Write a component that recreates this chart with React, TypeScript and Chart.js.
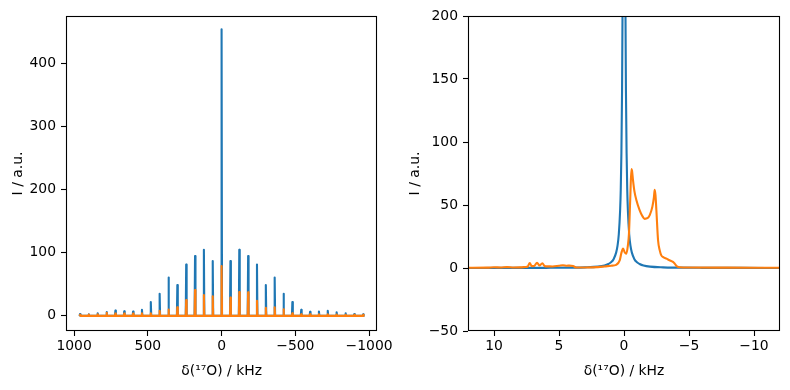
import React, { useEffect, useRef } from "react";
import { Chart, registerables } from "chart.js";

Chart.register(...registerables);

// ---------- Left panel: spinning sideband manifold (kHz) ----------
const sidebandPositions = [
  960, 900, 840, 780, 720, 660, 600, 540, 480, 420, 360, 300, 240, 180, 120, 60, 0,
  -60, -120, -180, -240, -300, -360, -420, -480, -540, -600, -660, -720, -780, -840, -900, -960,
];
const blueSidebands = [
  3, 2.6, 4, 6, 8.5, 7.4, 7, 9.5, 22, 35, 61, 49, 81.5, 95, 105, 87, 455,
  87, 105, 95, 81.5, 49, 61, 35, 22, 9.5, 6.3, 7, 8, 5.8, 4, 3, 2.6,
];
const orangeSidebands = [
  1.6, 2, 2.6, 4.8, 3.7, 3.7, 3.7, 4.2, 4.2, 8, 10, 13.8, 25, 41, 33, 31, 79,
  29, 38, 37.5, 24, 12.7, 13.8, 10.6, 4.2, 2.6, 2.6, 2.6, 2.6, 2, 1.6, 1.6, 1.6,
];
const leftXTicks = [1000, 500, 0, -500, -1000];
const leftYTicks = [0, 100, 200, 300, 400];

// ---------- Right panel: centre band, zoomed (kHz) ----------
const blueX = [
  12, 9, 6, 4, 3, 2, 1.5, 1.2, 1, 0.8, 0.6, 0.5, 0.4, 0.3, 0.25, 0.2, 0.15, 0.1, 0.05, 0,
  -0.05, -0.1, -0.15, -0.2, -0.25, -0.3, -0.4, -0.5, -0.6, -0.8, -1, -1.2, -1.5, -2, -3, -4, -6, -9, -12,
];
const blueY = [
  0.03, 0.06, 0.13, 0.28, 0.5, 1.1, 2, 3.2, 4.5, 7, 12.4, 17.5, 26.8, 45.5, 62, 91, 140, 227, 364, 455,
  364, 227, 140, 91, 62, 45.5, 26.8, 17.5, 12.4, 7, 4.5, 3.2, 2, 1.1, 0.5, 0.28, 0.13, 0.06, 0.03,
];
const orangeX = [
  12, 10.5, 10, 9.5, 9, 8.5, 8, 7.6, 7.4, 7.25, 7.1, 6.9, 6.69, 6.5, 6.28, 6.1, 5.85, 5.5, 5.0, 4.7,
  4.4, 4.2, 3.92, 3.66, 3.0, 2.0, 1.5, 1.0, 0.6, 0.33, 0.2, 0.07, -0.05, -0.18, -0.3, -0.38, -0.48, -0.57, -0.62, -0.69,
  -0.8, -0.95, -1.2, -1.4, -1.59, -1.8, -1.98, -2.18, -2.3, -2.36, -2.42, -2.49, -2.62, -2.75, -2.87, -3.05, -3.26, -3.5, -3.77, -3.9,
  -4.08, -4.3, -5, -8, -12,
];
const orangeY = [
  0.2, 0.3, 0.6, 0.4, 0.7, 0.4, 0.5, 0.8, 1.2, 4, 1.5, 1.6, 4.2, 2, 3.8, 1.5, 1.3, 1.2, 1.8, 2.2,
  1.8, 1.9, 1.5, 0.4, 0.4, 0.7, 1.2, 1.8, 2.5, 6, 12, 15.4, 12.5, 11.4, 18, 27, 55, 78.5, 77, 70,
  61, 54, 46, 41.5, 39, 39.5, 42, 48.5, 56, 62, 58, 46, 22, 14, 10, 8.5, 7.4, 6.2, 4.8, 3.5,
  1.3, 0.6, 0.4, 0.3, 0.2,
];
const rightXTicks = [10, 5, 0, -5, -10];
const rightYTicks = [-50, 0, 50, 100, 150, 200];

const xTitle = "δ(¹⁷O) / kHz";
const yTitle = "I / a.u.";

const BLUE = "#1f77b4";
const ORANGE = "#ff7f0e";
const FONT = { family: "DejaVu Sans", size: 13.9 };
const SPIKE_HALF = 3; // kHz, half base width of a drawn sideband

function spikes(pos: number[], h: number[]) {
  const pts: { x: number; y: number }[] = [];
  pos.forEach((p, i) => {
    pts.push({ x: p + SPIKE_HALF, y: 0 });
    pts.push({ x: p, y: h[i] });
    pts.push({ x: p - SPIKE_HALF, y: 0 });
  });
  return pts;
}

const fmt = (v: number | string) => String(v).replace("-", "\u2212");

const framePlugin = {
  id: "frame",
  afterDatasetsDraw(chart: any) {
    const { ctx, chartArea: a } = chart;
    ctx.save();
    ctx.strokeStyle = "#000";
    ctx.lineWidth = 1.1;
    const l = Math.round(a.left) + 0.5;
    const t = Math.round(a.top) + 0.5;
    const r = Math.round(a.right) - 0.5;
    const b = Math.round(a.bottom) - 0.5;
    ctx.strokeRect(l, t, r - l, b - t);
    ctx.restore();
  },
};

type PanelProps = {
  datasets: any[];
  xMin: number;
  xMax: number;
  yMin: number;
  yMax: number;
  xTicks: number[];
  yTicks: number[];
  yAxisWidth: number;
  padRight: number;
  yTitlePad: number;
};

function Panel(p: PanelProps) {
  const ref = useRef<HTMLCanvasElement | null>(null);
  useEffect(() => {
    if (!ref.current) return;
    const chart = new Chart(ref.current, {
      type: "line",
      data: { datasets: p.datasets },
      plugins: [framePlugin],
      options: {
        responsive: false,
        animation: false,
        devicePixelRatio: 1,
        layout: { padding: { top: 16, right: p.padRight, bottom: 0, left: 0 } },
        plugins: { legend: { display: false }, tooltip: { enabled: false } },
        elements: { point: { radius: 0 } },
        scales: {
          x: {
            type: "linear",
            reverse: true,
            min: p.xMin,
            max: p.xMax,
            afterBuildTicks: (s: any) => {
              s.ticks = p.xTicks.map((v) => ({ value: v }));
            },
            afterFit: (s: any) => {
              s.height = 59;
            },
            ticks: { callback: fmt, font: FONT, color: "#000", padding: 2, maxRotation: 0, autoSkip: false },
            grid: { drawOnChartArea: false, drawTicks: true, tickLength: 5, tickColor: "#000", tickWidth: 1.1 },
            border: { display: false },
            title: { display: true, text: xTitle, font: FONT, color: "#000", padding: { top: 0, bottom: 10 } },
          },
          y: {
            type: "linear",
            min: p.yMin,
            max: p.yMax,
            afterBuildTicks: (s: any) => {
              s.ticks = p.yTicks.map((v) => ({ value: v }));
            },
            afterFit: (s: any) => {
              s.width = p.yAxisWidth;
            },
            ticks: { callback: fmt, font: FONT, color: "#000", padding: 5, autoSkip: false },
            grid: { drawOnChartArea: false, drawTicks: true, tickLength: 5, tickColor: "#000", tickWidth: 1.1 },
            border: { display: false },
            title: { display: true, text: yTitle, font: FONT, color: "#000", padding: { top: p.yTitlePad, bottom: 0 } },
          },
        },
      } as any,
    });
    return () => chart.destroy();
  }, []);
  return <canvas ref={ref} width={395} height={390} style={{ display: "block" }} />;
}

export default function App() {
  const leftSets = [
    {
      data: spikes(sidebandPositions, blueSidebands),
      borderColor: BLUE,
      borderWidth: 2.1,
      borderJoinStyle: "round",
      tension: 0,
      order: 1,
      clip: 0,
    },
    {
      data: spikes(sidebandPositions, orangeSidebands),
      borderColor: ORANGE,
      borderWidth: 2.1,
      borderJoinStyle: "round",
      tension: 0,
      order: 0,
      clip: 0,
    },
  ];
  const rightSets = [
    {
      data: blueX.map((x, i) => ({ x, y: blueY[i] })),
      borderColor: BLUE,
      borderWidth: 2.1,
      cubicInterpolationMode: "monotone",
      order: 1,
      clip: 0,
    },
    {
      data: orangeX.map((x, i) => ({ x, y: orangeY[i] })),
      borderColor: ORANGE,
      borderWidth: 2.1,
      cubicInterpolationMode: "monotone",
      order: 0,
      clip: 0,
    },
  ];
  return (
    <div style={{ position: "absolute", left: 0, top: 0, width: 790, height: 390, background: "#fff" }}>
      <div style={{ position: "absolute", left: 0, top: 0 }}>
        <Panel
          datasets={leftSets}
          xMin={-1055}
          xMax={1055}
          yMin={-24}
          yMax={476}
          xTicks={leftXTicks}
          yTicks={leftYTicks}
          yAxisWidth={66}
          padRight={17}
          yTitlePad={9.7}
        />
      </div>
      <div style={{ position: "absolute", left: 395, top: 0 }}>
        <Panel
          datasets={rightSets}
          xMin={-12}
          xMax={12}
          yMin={-50}
          yMax={200}
          xTicks={rightXTicks}
          yTicks={rightYTicks}
          yAxisWidth={73}
          padRight={10}
          yTitlePad={12}
        />
      </div>
    </div>
  );
}
